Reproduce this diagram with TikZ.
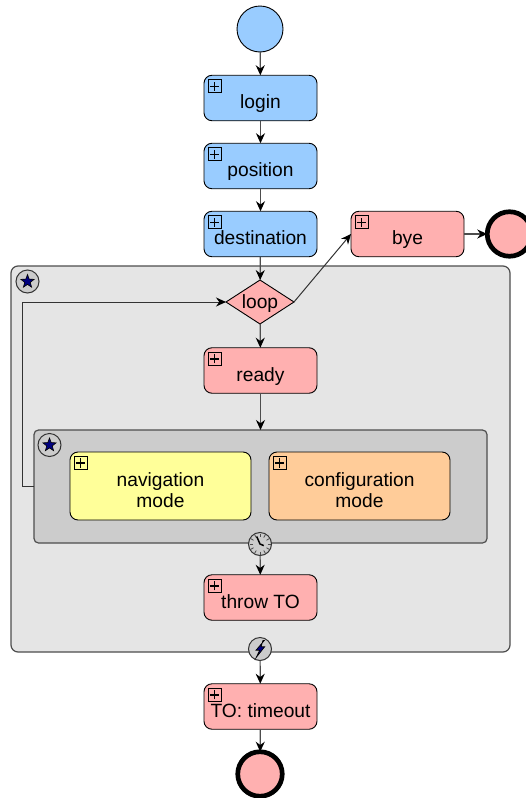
\documentclass[tikz,border=0pt]{standalone}
\usepackage{fontspec}
\setmainfont{Liberation Sans}
\usetikzlibrary{arrows.meta,shapes.geometric}
\definecolor{cblue}{HTML}{99CCFF}
\definecolor{cpink}{HTML}{FFB0B0}
\definecolor{cyel}{HTML}{FFFF99}
\definecolor{corg}{HTML}{FFCC99}
\definecolor{cgrp}{HTML}{E5E5E5}
\definecolor{cinn}{HTML}{CCCCCC}
\definecolor{cline}{HTML}{4D4D4D}
\definecolor{cnavy}{HTML}{000080}
\newcommand{\lbl}[1]{\raisebox{-10.5pt}[0pt][0pt]{#1}}
\newcommand{\lbltwo}[2]{\raisebox{-12pt}[0pt][0pt]{\begin{tabular}{@{}c@{}}#1\\#2\end{tabular}}}
\tikzset{
  base/.style={draw=black,line width=0.9pt,inner sep=0pt,outer sep=0pt},
  task/.style={base,rectangle,rounded corners=8pt,minimum width=113pt,minimum height=45.5pt,font=\fontsize{19.2}{21}\selectfont},
  group/.style={rectangle,draw=cline,line width=1.2pt,rounded corners=7pt,inner sep=0pt,outer sep=0pt},
  startev/.style={base,circle,fill=cblue,minimum size=46pt},
  endev/.style={circle,draw=black,line width=4.7pt,fill=cpink,minimum size=44.5pt,inner sep=0pt,outer sep=0pt},
  gate/.style={base,diamond,fill=cpink,minimum width=68pt,minimum height=44pt,font=\fontsize{19.2}{21}\selectfont},
  badge/.style={circle,draw=black!80,line width=1pt,fill=cinn,minimum size=23pt,inner sep=0pt,outer sep=0pt},
  staricon/.style={star,star points=5,star point ratio=2.4,draw=black,line width=0.6pt,fill=cnavy,minimum size=14pt,inner sep=0pt},
  plusicon/.style={rectangle,draw=black,line width=1pt,minimum size=13pt,inner sep=0pt,outer sep=0pt,
    path picture={\draw[line width=1.5pt] ([xshift=1.8pt]path picture bounding box.west) -- ([xshift=-1.8pt]path picture bounding box.east);
      \draw[line width=1.5pt] ([yshift=1.8pt]path picture bounding box.south) -- ([yshift=-1.8pt]path picture bounding box.north);}},
  flow/.style={draw=cline,line width=1.2pt,-{Stealth[length=10pt,width=9pt,color=black]}},
}
\begin{document}
\begin{tikzpicture}[x=1pt,y=-1pt]
\useasboundingbox (0,0) rectangle (526,798);
\fill[white] (0,0) rectangle (526,798);
\begin{scope}
\clip (0,0) rectangle (526,798);
% groups
\node[group,fill=cgrp,minimum width=499pt,minimum height=386pt] (outer) at (260.5,459) {};
\node[group,rounded corners=4.5pt,fill=cinn,minimum width=453pt,minimum height=113pt] (inner) at (260.5,486.5) {};
% events and tasks
\node[startev] (start) at (260,29) {};
\node[task,fill=cblue] (login) at (260.5,98) {\lbl{login}};
\node[task,fill=cblue] (position) at (260.5,166) {\lbl{position}};
\node[task,fill=cblue] (destination) at (260.5,234) {\lbl{destination}};
\node[task,fill=cpink] (bye) at (407.5,234) {\lbl{bye}};
\node[endev] (byeend) at (509.5,234) {};
\node[gate] (loop) at (260,302) {\raisebox{-6pt}[0pt][0pt]{loop}};
\node[task,fill=cpink] (ready) at (260.5,370.5) {\lbl{ready}};
\node[task,fill=cyel,minimum width=181pt,minimum height=68pt] (nav) at (160.5,486) {\lbltwo{navigation}{mode}};
\node[task,fill=corg,minimum width=181pt,minimum height=68pt] (conf) at (359.5,486) {\lbltwo{configuration}{mode}};
\node[task,fill=cpink] (throw) at (260.5,597.5) {\lbl{throw TO}};
\node[task,fill=cpink] (timeout) at (260.5,706.5) {\lbl{TO: timeout}};
\node[endev] (finish) at (260,774) {};
% plus markers
\foreach \n in {login,position,destination,bye,ready,nav,conf,throw,timeout}{
  \node[plusicon] (\n-plus) at ([shift={(10.5,11)}]\n.north west) {};
}
% star badges
\node[badge] (outerbadge) at (27.5,281.5) {};
\node[staricon] (outerstar) at (27.5,281.5) {};
\node[badge] (innerbadge) at (49.5,445) {};
\node[staricon] (innerstar) at (49.5,445) {};
% connectors
\coordinate (back) at (22.5,486.5);
\draw[flow] (start) -- (login);
\draw[flow] (login) -- (position);
\draw[flow] (position) -- (destination);
\draw[flow] (destination) -- (loop);
\draw[flow,line width=1pt,draw=black!80] (loop.east) -- (bye.west);
\draw[flow] (bye) -- (byeend);
\draw[flow] (loop) -- (ready);
\draw[flow] (ready.south) -- (inner.north);
\draw[flow,line width=1pt,draw=black!80] (inner.west) -- (back) |- (loop.west);
% timer badge
\node[badge] (timer) at (260,544) {};
\begin{scope}[shift={(timer.center)}]
  \foreach \a in {0,30,...,330}{\draw[line width=0.8pt,draw=black!70] (\a:7.5) -- (\a:10.5);}
  \draw[line width=1.5pt] (-3.3,-7.5) -- (0,0) -- (3.8,1.6);
\end{scope}
% error badge
\node[badge] (err) at (260,649) {};
\begin{scope}[shift={(err.center)}]
  \draw[fill=cnavy,line width=0.7pt] (4.3,-8.5) -- (-4,1.2) -- (-0.3,1.2) -- (-3.8,8.5) -- (4.6,-2.2) -- (1,-2.2) -- (3,-8.5) -- cycle;
\end{scope}
\draw[flow] (timer) -- (throw);
\draw[flow] (err) -- (timeout);
\draw[flow] (timeout) -- (finish);
\end{scope}
\end{tikzpicture}
\end{document}
